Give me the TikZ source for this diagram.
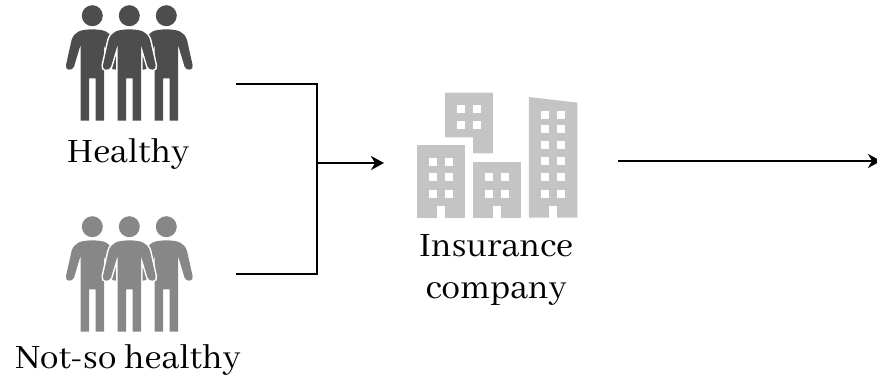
\documentclass[tikz,border=0pt]{standalone}
\usepackage{fontspec}
\setmainfont{Abhaya Libre}
\usepackage{tikz}
\usetikzlibrary{arrows.meta,positioning}
\usepackage{xcolor}
\definecolor{dfdark}{RGB}{77,77,77}
\definecolor{dfmid}{RGB}{135,135,135}
\definecolor{dflight}{RGB}{196,196,196}
\tikzstyle{arrow} = [line width=2.5pt,-{Stealth[length=13pt,width=14pt,inset=4pt]},color=black]
\tikzstyle{link} = [line width=2.5pt,color=black,line join=miter]
\tikzstyle{caption} = [font=\fontsize{37.5}{38}\selectfont, inner sep=0pt, text=black, anchor=base]
\tikzstyle{window} = [fill=white]
\tikzstyle{halo} = [fill=white,draw=white,line width=3pt]
\tikzset{
  person/.pic={
    \path[pic actions] (0,0) circle (10.5);
    \path[pic actions] (0,13.7) .. controls (12,13.7) and (18,16) .. (20.7,24.3)
      -- (26.3,49.3) .. controls (27.8,55) and (20,55.5) .. (18.3,51)
      -- (11.8,29.3) -- (11.8,105) -- (3.3,105) -- (3.3,62.7) -- (-3.3,62.7) -- (-3.3,105) -- (-11.8,105) -- (-11.8,29.3)
      -- (-18.3,51) .. controls (-20,55.5) and (-27.8,55) .. (-26.3,49.3)
      -- (-20.7,24.3) .. controls (-18,16) and (-12,13.7) .. (0,13.7) -- cycle;
  }
}
\begin{document}
\begin{tikzpicture}[x=1pt,y=-1pt]
\useasboundingbox (0,0) rectangle (877,380);

% Healthy group
\pic[fill=dfdark] at (92.3,15.7) {person};
\pic[fill=dfdark] at (166.3,15.7) {person};
\pic[halo] at (129.3,15.7) {person};
\pic[fill=dfdark] at (129.3,15.7) {person};
\node[caption] at (128,162) (healthy) {Healthy};

% Not-so healthy group
\pic[fill=dfmid] at (92.3,226.7) {person};
\pic[fill=dfmid] at (166.3,226.7) {person};
\pic[halo] at (129.3,226.7) {person};
\pic[fill=dfmid] at (129.3,226.7) {person};
\node[caption] at (128,368) (nothealthy) {Not-so healthy};

% Buildings, in units of a third of a pixel
\begin{scope}[shift={(400,85)},x=0.3333pt,y=-0.3333pt]
\fill[dflight] (50,181) rectangle (195,398);
\fill[dflight] (219,230) rectangle (363,398);
\fill[dflight] (135,23) -- (279,23) -- (279,205) -- (219,205) -- (219,157) -- (135,157) -- cycle;
\fill[dflight] (387,36) -- (532,53) -- (532,398) -- (387,398) -- cycle;
\foreach \wy in {218,265,314} {
  \foreach \wx in {87,135} \fill[window] (\wx,\wy) rectangle +(23,24);
}
\foreach \wy in {265,314} {
  \foreach \wx in {255,303} \fill[window] (\wx,\wy) rectangle +(23,24);
}
\foreach \wy in {60,108} {
  \foreach \wx in {171,219} \fill[window] (\wx,\wy) rectangle +(23,24);
}
\foreach \wy in {78,120,168,216,264,314} {
  \foreach \wx in {423,472} \fill[window] (\wx,\wy) rectangle +(23,24);
}
\foreach \wx in {110,279,447} \fill[window] (\wx,362) rectangle +(25,36);
\end{scope}
\node[caption] at (496,256) (insurance) {Insurance};
\node[caption] at (496,298) (company) {company};

% Connectors
\coordinate (topstart) at (236,84);
\coordinate (bottomstart) at (236,274);
\coordinate (merge) at (317,163);
\coordinate (company in) at (384,163);
\coordinate (company out) at (618,161);
\coordinate (result) at (881,161);
\draw[link] (topstart) -| (merge) |- (bottomstart);
\draw[arrow] (merge) -- (company in);
\draw[arrow] (company out) -- (result);
\end{tikzpicture}
\end{document}
